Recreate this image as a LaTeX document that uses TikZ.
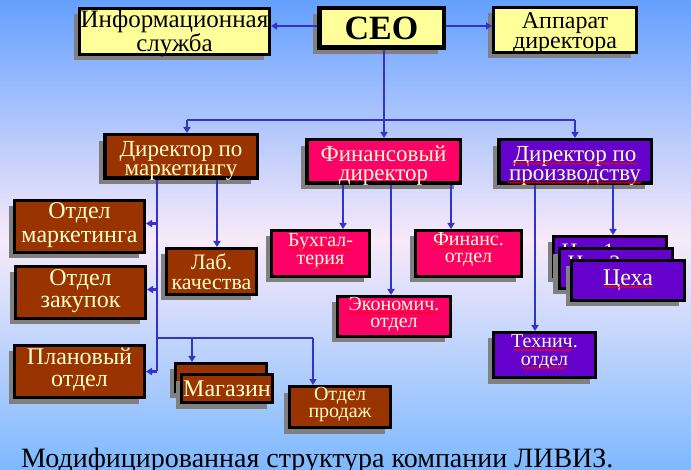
\documentclass[tikz,border=0pt]{standalone}
\usepackage{fontspec}
\setmainfont{Liberation Serif}
\usetikzlibrary{arrows.meta,shadows,decorations.pathmorphing}
\definecolor{bgtop}{RGB}{100,160,255}
\definecolor{bgmid}{RGB}{248,234,250}
\definecolor{bgbot}{RGB}{125,185,255}
\definecolor{yel}{HTML}{FFFF99}
\definecolor{brn}{HTML}{993300}
\definecolor{pnk}{HTML}{FF0066}
\definecolor{prp}{HTML}{6600CC}
\definecolor{lighttext}{HTML}{FFFFCC}
\definecolor{shd}{HTML}{808080}
\definecolor{arrblue}{HTML}{3333CC}
\definecolor{spellred}{HTML}{FF0000}
\tikzset{
  box/.style={draw=black, line width=3pt, inner sep=0pt,
    drop shadow={shadow xshift=-6pt, shadow yshift=-6pt, fill=shd, opacity=1}},
  ybox/.style={box, fill=yel},
  bbox/.style={box, fill=brn},
  pbox/.style={box, fill=pnk},
  vbox/.style={box, fill=prp},
  tdark/.style={align=center, inner sep=0pt, text=black},
  tlight/.style={align=center, inner sep=0pt, text=lighttext},
  conn/.style={draw=arrblue, line width=2.5pt},
  arr/.style={conn, -{Triangle[length=6pt,width=7pt]}},
  wavy/.style={draw=spellred, line width=0.7pt, decorate,
    decoration={snake, amplitude=0.8pt, segment length=3pt}},
}
\begin{document}
\begin{tikzpicture}[x=1pt,y=-1pt]
\useasboundingbox (0,0) rectangle (691,470);
\shade[top color=bgtop, bottom color=bgmid] (0,0) rectangle (691,240);
\shade[top color=bgmid, bottom color=bgbot] (0,240) rectangle (691,470);

% top level
\node[ybox, minimum width=190, minimum height=46] (info) at (174.5,31.5) {};
\node[tdark, font=\fontsize{25}{16.5}\selectfont, yshift=-2pt] (infoT) at (info.center) {Информационная\\служба};
\node[ybox, line width=4.5pt, minimum width=124.5, minimum height=39.5] (ceo) at (381.5,28) {};
\node[tdark, font=\fontsize{34}{34}\selectfont\bfseries] (ceoT) at (ceo.center) {CEO};
\node[ybox, minimum width=143, minimum height=45] (app) at (565,30) {};
\node[tdark, font=\fontsize{24}{20}\selectfont, yshift=-3.5pt] (appT) at (app.center) {Аппарат\\директора};

% directors
\node[bbox, line width=3.5pt, minimum width=152.5, minimum height=43.5] (mkt) at (181,156.5) {};
\node[tlight, font=\fontsize{23}{19}\selectfont, yshift=-4pt] (mktT) at (mkt.center) {Директор по\\маркетингу};
\node[pbox, line width=3.5pt, minimum width=153.5, minimum height=43.5] (fin) at (383.5,161.5) {};
\node[tlight, font=\fontsize{23}{19}\selectfont, yshift=-4pt] (finT) at (fin.center) {Финансовый\\директор};
\node[vbox, line width=3.5pt, minimum width=152.5, minimum height=43.5] (prd) at (575,161.5) {};
\node[tlight, font=\fontsize{23}{19}\selectfont, yshift=-4pt] (prdT) at (prd.center) {Директор по\\производству};

% marketing branch
\node[bbox, minimum width=130, minimum height=52] (omkt) at (79.5,226.5) {};
\node[tlight, font=\fontsize{24}{24}\selectfont, yshift=1pt] (omktT) at (omkt.center) {Отдел\\маркетинга};
\node[bbox, minimum width=130, minimum height=52] (zak) at (80.5,292.5) {};
\node[tlight, font=\fontsize{24}{22}\selectfont, yshift=1pt] (zakT) at (zak.center) {Отдел\\закупок};
\node[bbox, minimum width=130, minimum height=52] (plan) at (79.5,371.5) {};
\node[tlight, font=\fontsize{24}{22}\selectfont, yshift=2pt] (planT) at (plan.center) {Плановый\\отдел};
\node[bbox, minimum width=90, minimum height=46] (lab) at (211.5,271.5) {};
\node[tlight, font=\fontsize{22}{20}\selectfont] (labT) at (lab.center) {Лаб.\\качества};
\node[bbox, minimum width=91, minimum height=28] (mag0) at (221,377.5) {};
\node[bbox, minimum width=91, minimum height=28] (mag) at (227,388.5) {};
\node[tlight, font=\fontsize{24}{24}\selectfont] (magT) at (mag.center) {Магазин};
\node[bbox, minimum width=101, minimum height=41] (prod) at (340,407) {};
\node[tlight, font=\fontsize{20}{17}\selectfont, yshift=2pt] (prodT) at (prod.center) {Отдел\\продаж};

% finance branch
\node[pbox, minimum width=98, minimum height=46] (buh) at (320.5,253.5) {};
\node[tlight, font=\fontsize{20}{18}\selectfont, yshift=2pt] (buhT) at (buh.center) {Бухгал-\\терия};
\node[pbox, minimum width=106, minimum height=46] (fotd) at (468.5,253.5) {};
\node[tlight, font=\fontsize{20}{16.5}\selectfont, yshift=4pt] (fotdT) at (fotd.center) {Финанс.\\отдел};
\node[pbox, minimum width=113, minimum height=40] (econ) at (394,316.5) {};
\node[tlight, font=\fontsize{20}{16.5}\selectfont, yshift=2pt] (econT) at (econ.center) {Экономич.\\отдел};

% production branch
\node[vbox, minimum width=102, minimum height=45] (tech) at (544.5,355) {};
\node[tlight, font=\fontsize{20}{18}\selectfont, yshift=3pt] (techT) at (tech.center) {Технич.\\отдел};
\node[vbox, minimum width=113, minimum height=40] (ceh1) at (610,256.5) {};
\node[anchor=base, text=lighttext, font=\fontsize{22}{22}\selectfont] (ceh1T) at (588,259) {Цех 1};
\node[vbox, minimum width=113, minimum height=40] (ceh2) at (615.5,268.5) {};
\node[anchor=base, text=lighttext, font=\fontsize{22}{22}\selectfont] (ceh2T) at (594,271) {Цех 2};
\node[vbox, minimum width=113, minimum height=40] (ceh) at (628,280.5) {};
\node[tlight, font=\fontsize{24}{24}\selectfont] (cehT) at (ceh.center) {Цеха};

% spell-check underlines as shown in the picture
\draw[wavy] (513,163.5) -- (637,163.5);
\draw[wavy] (508,182.5) -- (642,182.5);
\draw[wavy] (290,249.5) -- (351,249.5);
\draw[wavy] (315,267.5) -- (344,267.5);
\draw[wavy] (434,247.5) -- (498,247.5);
\draw[wavy] (349,313) -- (435,313);
\draw[wavy] (514,350) -- (572,350);
\draw[wavy] (522,368) -- (567,368);
\draw[wavy] (604,287) -- (652,287);

% caption
\node[anchor=base west, inner sep=0pt, font=\fontsize{28}{28}\selectfont] (cap) at (21,467) {Модифицированная структура компании ЛИВИЗ.};

% connectors
\coordinate (bus) at (384,120);
\coordinate (bl) at (187,120);
\coordinate (br) at (575,120);
\draw[arr] ([yshift=2pt]ceo.west) -- ([yshift=2pt]ceo.west -| info.east);
\draw[arr] ([yshift=2pt]ceo.east) -- ([yshift=2pt]ceo.east -| app.west);
\draw[arr] (ceo.south -| bus) -- (fin.north -| bus);
\draw[conn] (bl) -- (br);
\draw[arr] (bl) -- (bl |- mkt.north);
\draw[arr] (br) -- (br |- prd.north);

\coordinate (mv) at (157,200);
\coordinate (lv) at (217,200);
\draw[conn] (mv |- mkt.south) -- (mv |- plan.east);
\draw[arr] ([yshift=3pt]mv |- omkt.east) -- ([yshift=3pt]omkt.east);
\draw[arr] ([yshift=3pt]mv |- zak.east) -- ([yshift=3pt]zak.east);
\draw[arr] (mv |- plan.east) -- (plan.east);
\draw[arr] (lv |- mkt.south) -- (lv |- lab.north);
\coordinate (hb) at (157,338);
\coordinate (hr) at (313,338);
\coordinate (hm) at (192,338);
\draw[conn] (hb) -- (hr);
\draw[arr] (hr) -- (hr |- prod.north);
\draw[arr] (hm) -- (hm |- mag0.north);

\coordinate (fx1) at (343,200);
\coordinate (fx2) at (391,200);
\coordinate (fx3) at (451,200);
\draw[arr] (fx1 |- fin.south) -- (fx1 |- buh.north);
\draw[arr] (fx2 |- fin.south) -- (fx2 |- econ.north);
\draw[arr] (fx3 |- fin.south) -- (fx3 |- fotd.north);
\coordinate (px1) at (535,200);
\coordinate (px2) at (613,200);
\draw[arr] (px1 |- prd.south) -- (px1 |- tech.north);
\draw[arr] (px2 |- prd.south) -- (px2 |- ceh1.north);
\end{tikzpicture}
\end{document}
